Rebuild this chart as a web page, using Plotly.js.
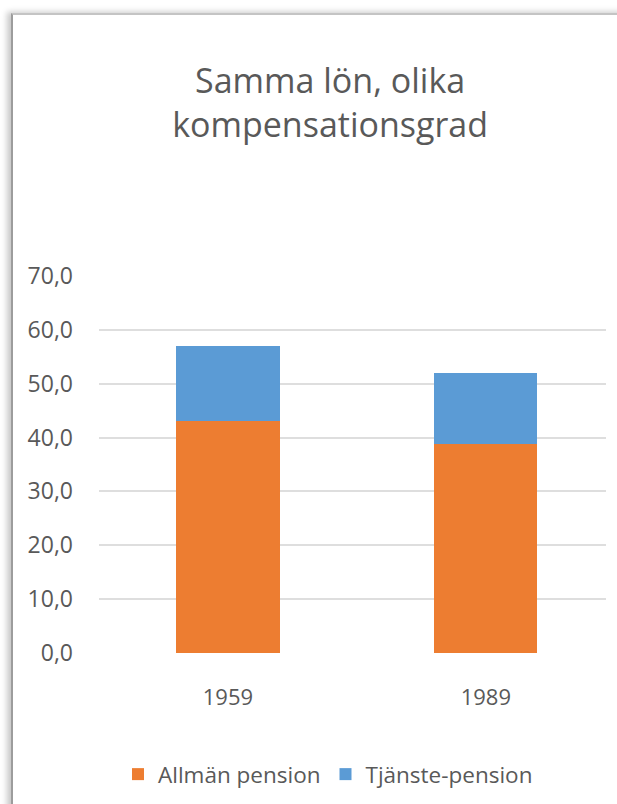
<!DOCTYPE html>
<html>
<head>
<meta charset="utf-8">
<script src="https://cdn.plot.ly/plotly-3.0.1.min.js"></script>
<style>
  html, body { margin:0; padding:0; background:#ffffff; width:617px; height:804px; overflow:hidden; }
  #frame { position:absolute; left:11px; top:13px; width:640px; height:820px; background:#fff;
           border-left:2px solid #9c9c9c; border-top:2px solid #c4c4c4;
           box-shadow:-4px -1px 6px rgba(0,0,0,0.22); }
  #chart { position:absolute; left:0; top:0; width:617px; height:804px; }
</style>
</head>
<body>
<div id="frame"></div>
<div id="chart"></div>
<script>
// Data
var categories = ["1959", "1989"];
var allmanPension = [43.1, 38.8];
var tjanstePension = [13.9, 13.2];
var seriesNames = ["Allmän pension", "Tjänste-pension"];
var titleText = "Samma lön, olika<br>kompensationsgrad";

var FONT = "'Open Sans', sans-serif";
var TXT = "#595959";

var traces = [
  { type: "bar", name: seriesNames[0], x: categories, y: allmanPension,
    marker: { color: "#ED7D31" }, width: 0.4, hoverinfo: "none" },
  { type: "bar", name: seriesNames[1], x: categories, y: tjanstePension,
    marker: { color: "#5B9BD5" }, width: 0.4, hoverinfo: "none" }
];

var layout = {
  width: 617, height: 804,
  paper_bgcolor: "rgba(0,0,0,0)", plot_bgcolor: "rgba(0,0,0,0)",
  barmode: "stack",
  separators: ", ",
  margin: { l: 99, r: 11, t: 276, b: 151, pad: 0 },
  font: { family: FONT, color: TXT, size: 23 },
  title: {
    text: titleText,
    font: { family: FONT, color: TXT, size: 34 },
    xref: "container", x: 0.535, xanchor: "center",
    yref: "container", y: 1 - 93/804, yanchor: "middle"
  },
  xaxis: {
    type: "category", range: [-0.5, 1.466],
    showgrid: false, zeroline: false, showline: false, ticks: "",
    ticklabelstandoff: 29,
    tickfont: { family: FONT, color: TXT, size: 22 }
  },
  yaxis: {
    range: [0, 70], dtick: 10, tick0: 0, tickformat: ".1f",
    showgrid: true, gridcolor: "#dedede", gridwidth: 2,
    zeroline: false, showline: false, ticks: "",
    ticklabelstandoff: 25,
    tickfont: { family: FONT, color: TXT, size: 23 }
  },
  showlegend: true,
  legend: {
    orientation: "h",
    xref: "container", x: 118/617, xanchor: "left",
    yref: "container", y: 1 - 753/804, yanchor: "top",
    font: { family: FONT, color: TXT, size: 22.5 },
    traceorder: "normal"
  }
};

Plotly.newPlot("chart", traces, layout, { staticPlot: true, displayModeBar: false });
</script>
</body>
</html>
